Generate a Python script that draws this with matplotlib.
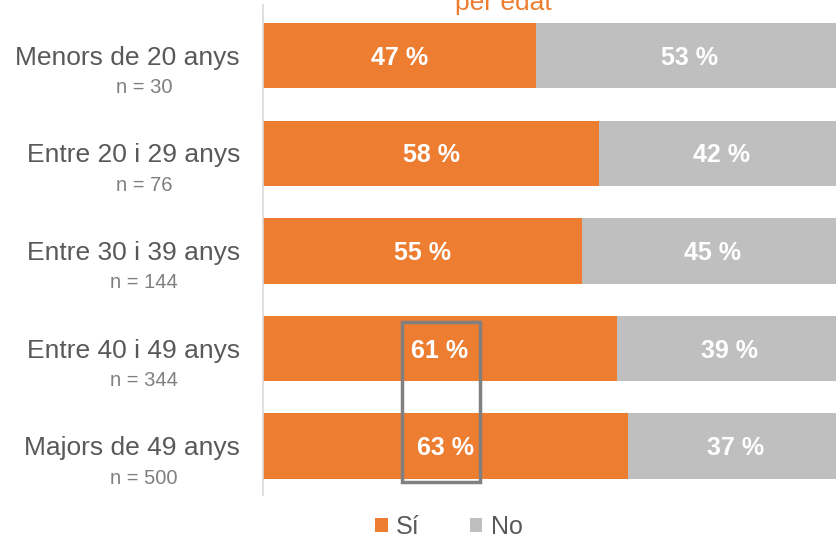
import matplotlib
matplotlib.use("Agg")
import matplotlib.pyplot as plt
from matplotlib.patches import Rectangle

plt.rcParams['font.family'] = ['Liberation Sans', 'DejaVu Sans']

categories = ["Menors de 20 anys", "Entre 20 i 29 anys", "Entre 30 i 39 anys",
              "Entre 40 i 49 anys", "Majors de 49 anys"]
n_labels = ["n = 30", "n = 76", "n = 144", "n = 344", "n = 500"]
si_values = [47, 58, 55, 61, 63]
no_values = [53, 42, 45, 39, 37]
series_names = ["Sí", "No"]
title_text = "per edat"

ORANGE = "#ED7D31"
GRAY = "#BFBFBF"

W, H = 836, 539
fig = plt.figure(figsize=(W / 100, H / 100), dpi=100)
# the plot area extends slightly beyond the right edge (chart is cropped)
ax = fig.add_axes([263 / W, 1 - 495 / H, 580 / W, (495 - 5) / H])

y = list(range(len(categories)))
b1 = ax.barh(y, si_values, height=0.67, color=ORANGE, label=series_names[0])
b2 = ax.barh(y, no_values, left=si_values, height=0.67, color=GRAY, label=series_names[1])

for i in y:
    ax.annotate(f"{si_values[i]} %", xy=(si_values[i] / 2, i), xytext=(0, -2),
                textcoords="offset pixels", color="white", fontsize=18,
                fontweight="bold", ha="center", va="center")
    ax.annotate(f"{no_values[i]} %", xy=(si_values[i] + no_values[i] / 2, i),
                xytext=(0, -2), textcoords="offset pixels", color="white",
                fontsize=18, fontweight="bold", ha="center", va="center")

ax.set_xlim(0, 100)
ax.set_ylim(4.5, -0.52)
ax.set_xticks([])
ax.set_yticks([])
for s in ["top", "right", "bottom"]:
    ax.spines[s].set_visible(False)
ax.spines["left"].set_color("#D9D9D9")
ax.spines["left"].set_linewidth(1.2)

# category labels
for i in y:
    ax.annotate(categories[i], xy=(0, i), xycoords=("axes fraction", "data"),
                xytext=(-23, -2), textcoords="offset pixels", ha="right", va="center",
                fontsize=19, color="#595959", annotation_clip=False)
    ax.annotate(n_labels[i], xy=(0, i), xycoords=("axes fraction", "data"),
                xytext=(-119, -32), textcoords="offset pixels", ha="center", va="center",
                fontsize=14.5, color="#7F7F7F", annotation_clip=False)

# highlight box around 61 % and 63 %
ax.add_patch(Rectangle((24.0, 2.73), 13.4, 1.64, fill=False, edgecolor="#808080",
                       linewidth=2.5, zorder=5, clip_on=False))

fig.text(503 / W, 1 - 10 / H, title_text, color=ORANGE, fontsize=19,
         ha="center", va="baseline")

fig.legend(handles=[b1, b2], labels=series_names, loc="center",
           bbox_to_anchor=(449 / W, 1 - 527 / H), ncol=2, frameon=False,
           fontsize=18, handlelength=0.5, handleheight=0.5, handletextpad=0.35,
           columnspacing=2.0, labelcolor="#595959")

fig.savefig("out.png", dpi=100)
